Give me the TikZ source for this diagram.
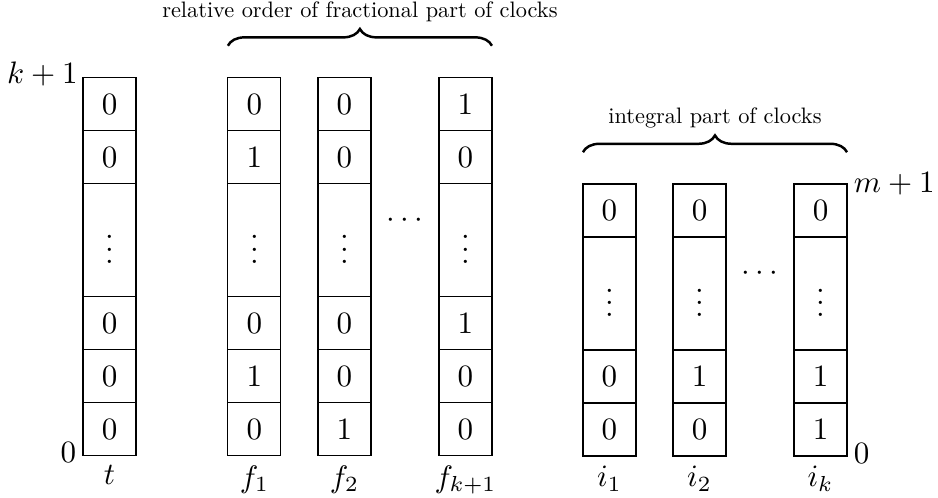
\documentclass[tikz,border=0pt]{standalone}
\usetikzlibrary{positioning,calc,decorations.pathreplacing}

\begin{document}
\begin{tikzpicture}[line width=0.4pt]
\tikzset{
  cell/.style={draw, minimum width=0.6cm, minimum height=0.6cm, inner sep=0pt, outer sep=0pt},
  tallcell/.style={cell, minimum height=1.28cm},
  colname/.style={below, inner sep=3pt},
  clockbrace/.style={decorate, decoration={brace, amplitude=0.19cm}, thick},
  bracetext/.style={above=0.22cm, inner sep=1pt}
}
\useasboundingbox (-0.94,-0.475) rectangle (9.68,5.163);

% t and the fractional parts
\foreach \col/\x/\lbl/\ra/\rb/\rc/\rd/\re in {t/0/t/0/0/0/0/0, fa/1.64/f_1/0/1/0/1/0, fb/2.66/f_2/0/0/0/0/1, fk/4.03/f_{k+1}/1/0/1/0/0} {
  \node[cell] (\col-1) at (\x+0.3,3.985) {$\ra$};
  \node[cell, below=0pt of \col-1] (\col-2) {$\rb$};
  \node[tallcell, below=0pt of \col-2] (\col-3) {$\vdots$};
  \node[cell, below=0pt of \col-3] (\col-4) {$\rc$};
  \node[cell, below=0pt of \col-4] (\col-5) {$\rd$};
  \node[cell, below=0pt of \col-5] (\col-6) {$\re$};
  \node[colname] (\col-name) at (\col-6.south) {$\lbl$};
}

% integral parts
\foreach \col/\x/\lbl/\ra/\rb/\rc in {ia/5.66/i_1/0/0/0, ib/6.68/i_2/0/1/0, ik/8.05/i_k/0/1/1} {
  \node[cell] (\col-1) at (\x+0.3,2.78) {$\ra$};
  \node[tallcell, below=0pt of \col-1] (\col-2) {$\vdots$};
  \node[cell, below=0pt of \col-2] (\col-3) {$\rb$};
  \node[cell, below=0pt of \col-3] (\col-4) {$\rc$};
  \node[colname] (\col-name) at (\col-4.south) {$\lbl$};
}

\node[yshift=0.22cm] (fdots) at ($(fb-3)!0.5!(fk-3)$) {$\cdots$};
\node[yshift=0.22cm] (idots) at ($(ib-2)!0.5!(ik-2)$) {$\cdots$};

\node[anchor=east, inner sep=1.5pt, yshift=0.04cm] (ktop) at (t-1.north west) {$k+1$};
\node[anchor=east, inner sep=2pt, yshift=0.03cm] (kbot) at (t-6.south west) {$0$};
\node[anchor=west, inner sep=2pt] (mtop) at (ik-1.north east) {$m+1$};
\node[anchor=west, inner sep=2pt, yshift=0.03cm] (mbot) at (ik-4.south east) {$0$};

\draw[clockbrace] ([yshift=0.36cm]fa-1.north west) -- node[bracetext] (fraclbl) {\scalebox{0.72}{relative order of fractional part of clocks}} ([yshift=0.36cm]fk-1.north east);
\draw[clockbrace] ([yshift=0.36cm]ia-1.north west) -- node[bracetext] (intlbl) {\scalebox{0.72}{integral part of clocks}} ([yshift=0.36cm]ik-1.north east);
\end{tikzpicture}
\end{document}
